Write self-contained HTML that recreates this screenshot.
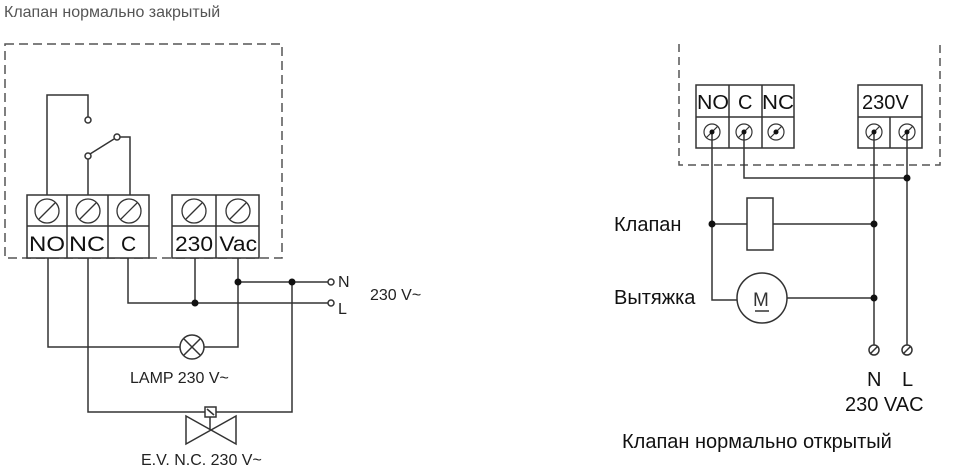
<!DOCTYPE html><html><head><meta charset="utf-8"><style>body{margin:0;background:#fff}svg{display:block}text{font-family:"Liberation Sans",sans-serif}</style></head><body>
<svg width="956" height="474" viewBox="0 0 956 474" xmlns="http://www.w3.org/2000/svg">
<text x="4" y="17" font-size="16" fill="#555">Клапан нормально закрытый</text>
<g stroke="#333" fill="none" stroke-width="1.5">
<rect x="5" y="44" width="277" height="214" stroke-dasharray="9,5" stroke="#555"/>
<rect x="27" y="195" width="122" height="63" fill="#fff"/><line x1="27" y1="226" x2="149" y2="226"/><line x1="67" y1="195" x2="67" y2="258"/><line x1="108" y1="195" x2="108" y2="258"/>
<rect x="172" y="195" width="87" height="63" fill="#fff"/><line x1="172" y1="226" x2="259" y2="226"/><line x1="216" y1="195" x2="216" y2="258"/>
<g stroke-width="1.3"><circle cx="47" cy="211" r="12"/><line x1="39" y1="219" x2="55" y2="203"/><circle cx="88" cy="211" r="12"/><line x1="80" y1="219" x2="96" y2="203"/><circle cx="129" cy="211" r="12"/><line x1="121" y1="219" x2="137" y2="203"/><circle cx="194" cy="211" r="12"/><line x1="186" y1="219" x2="202" y2="203"/><circle cx="238" cy="211" r="12"/><line x1="230" y1="219" x2="246" y2="203"/></g>
<polyline points="47,195 47,95 88,95 88,117"/><circle cx="88" cy="120" r="3" fill="#fff"/>
<line x1="88" y1="195" x2="88" y2="159"/><circle cx="88" cy="156" r="3" fill="#fff"/><line x1="90" y1="154" x2="114" y2="139"/><circle cx="117" cy="137" r="3" fill="#fff"/><polyline points="120,137 130,137 130,195"/>
<polyline points="48,258 48,347 180,347"/><polyline points="204,347 238,347 238,258"/><circle cx="192" cy="347" r="12"/><line x1="184" y1="339" x2="200" y2="355"/><line x1="200" y1="339" x2="184" y2="355"/>
<line x1="195" y1="258" x2="195" y2="303"/><polyline points="128,258 128,303 328,303"/><line x1="238" y1="282" x2="328" y2="282"/>
<circle cx="331" cy="282" r="3" fill="#fff"/><circle cx="331" cy="303" r="3" fill="#fff"/>
<polyline points="88,258 88,412 205,412"/><polyline points="216,412 292,412 292,282"/>
<rect x="205" y="407" width="11" height="10"/><line x1="207" y1="409" x2="214" y2="415"/><line x1="210" y1="417" x2="210" y2="430"/>
<polygon points="186,416 236,444 236,416 186,444"/>
</g>
<g fill="#111"><circle cx="195" cy="303" r="3.5"/><circle cx="238" cy="282" r="3.5"/><circle cx="292" cy="282" r="3.5"/></g>
<g font-size="21" fill="#111"><text x="29" y="251" textLength="36" lengthAdjust="spacingAndGlyphs">NO</text><text x="69" y="251" textLength="36" lengthAdjust="spacingAndGlyphs">NC</text><text x="121" y="251">C</text><text x="175" y="251" textLength="82" lengthAdjust="spacingAndGlyphs">230 Vac</text></g>
<g font-size="16" fill="#222"><text x="338" y="287">N</text><text x="338" y="314">L</text><text x="370" y="300">230 V~</text><text x="130" y="383">LAMP 230 V~</text><text x="141" y="465">E.V. N.C. 230 V~</text></g>

<g stroke="#333" fill="none" stroke-width="1.5">
<polyline points="679,44 679,165 940,165 940,44" stroke-dasharray="8,5" stroke="#555"/>
<rect x="696" y="85" width="98" height="63"/><line x1="696" y1="117" x2="794" y2="117"/><line x1="729" y1="85" x2="729" y2="148"/><line x1="762" y1="85" x2="762" y2="148"/>
<rect x="858" y="85" width="64" height="63"/><line x1="858" y1="117" x2="922" y2="117"/><line x1="890" y1="117" x2="890" y2="148"/>
<g stroke-width="1.2"><circle cx="712" cy="132" r="8"/><line x1="706" y1="138" x2="718" y2="126"/><circle cx="744" cy="132" r="8"/><line x1="738" y1="138" x2="750" y2="126"/><circle cx="776" cy="132" r="8"/><line x1="770" y1="138" x2="782" y2="126"/><circle cx="874" cy="132" r="8"/><line x1="868" y1="138" x2="880" y2="126"/><circle cx="907" cy="132" r="8"/><line x1="901" y1="138" x2="913" y2="126"/></g>
<polyline points="712,132 712,300 737,300"/><polyline points="744,132 744,178 907,178"/>
<line x1="712" y1="224" x2="747" y2="224"/><rect x="747" y="198" width="26" height="52"/><line x1="773" y1="224" x2="874" y2="224"/>
<circle cx="762" cy="298" r="25"/><line x1="787" y1="298" x2="874" y2="298"/><line x1="755" y1="311" x2="769" y2="311"/>
<line x1="874" y1="132" x2="874" y2="345"/><line x1="907" y1="132" x2="907" y2="345"/>
<circle cx="874" cy="350" r="5"/><line x1="870" y1="354" x2="878" y2="346"/><circle cx="907" cy="350" r="5"/><line x1="903" y1="354" x2="911" y2="346"/>
</g>
<g fill="#111"><circle cx="712" cy="132" r="2.5"/><circle cx="744" cy="132" r="2.5"/><circle cx="776" cy="132" r="2.5"/><circle cx="874" cy="132" r="2.5"/><circle cx="907" cy="132" r="2.5"/><circle cx="907" cy="178" r="3.5"/><circle cx="712" cy="224" r="3.5"/><circle cx="874" cy="224" r="3.5"/><circle cx="874" cy="298" r="3.5"/></g>
<g font-size="20" fill="#111"><text x="697" y="109" textLength="32" lengthAdjust="spacingAndGlyphs">NO</text><text x="738" y="109">C</text><text x="762" y="109" textLength="32" lengthAdjust="spacingAndGlyphs">NC</text><text x="862" y="109">230V</text>
<text x="753" y="306" font-size="19" fill="#333">M</text>
<text x="614" y="231">Клапан</text><text x="614" y="304">Вытяжка</text>
<text x="867" y="386">N</text><text x="902" y="386">L</text><text x="845" y="411">230 VAC</text>
<text x="622" y="448">Клапан нормально открытый</text></g>
</svg></body></html>
